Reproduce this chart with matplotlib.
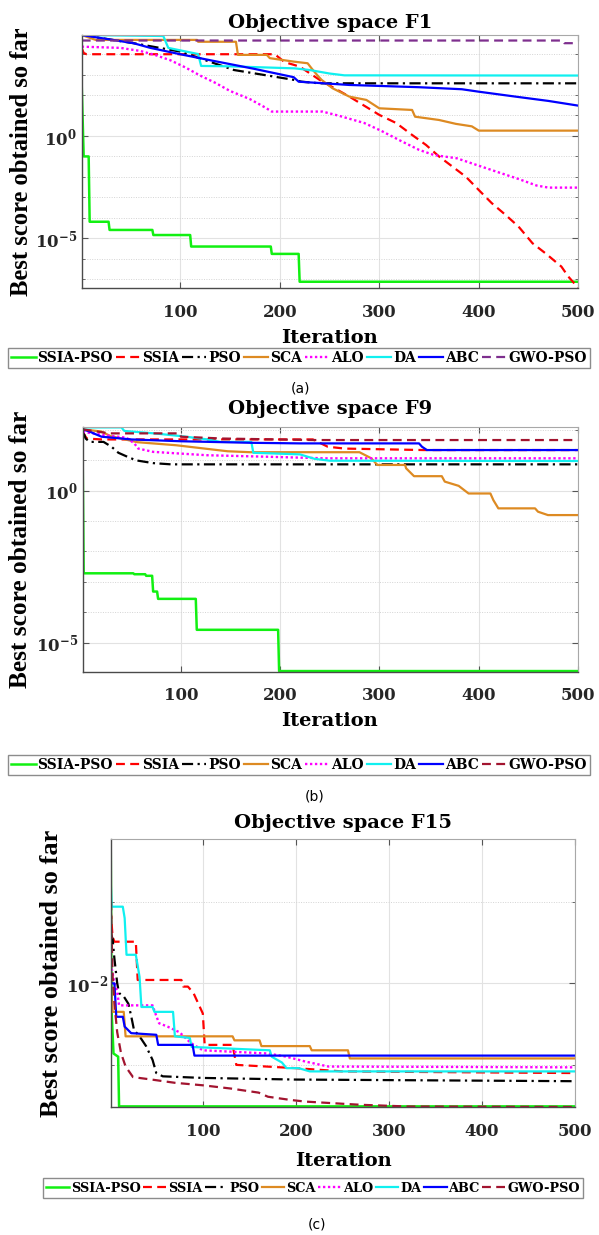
import matplotlib
matplotlib.use("Agg")
import matplotlib.pyplot as plt
from matplotlib.ticker import FixedLocator, FixedFormatter, NullFormatter, NullLocator

plt.rcParams.update({
    "font.family": "DejaVu Serif",
    "font.weight": "bold",
    "mathtext.fontset": "custom",
    "mathtext.rm": "DejaVu Serif:bold",
    "mathtext.bf": "DejaVu Serif:bold",
    "mathtext.it": "DejaVu Serif:bold:italic",
    "mathtext.default": "rm",
})

W, H = 599, 1235

methods = ["SSIA-PSO", "SSIA", "PSO", "SCA", "ALO", "DA", "ABC", "GWO-PSO"]
x_ticks = [100, 200, 300, 400, 500]
x_tick_labels = ["100", "200", "300", "400", "500"]

# ---------------- F1 convergence curves ----------------
f1_ssia_pso_it = [1, 3, 8, 9, 28, 29, 72, 73, 110, 111, 191, 192, 219, 220, 500]
f1_ssia_pso = [309, 0.1, 0.1, 6.46e-5, 6.46e-5, 2.57e-5, 2.57e-5, 1.45e-5, 1.45e-5,
               3.98e-6, 3.98e-6, 1.74e-6, 1.74e-6, 7.59e-8, 7.59e-8]
f1_ssia_it = [1, 3, 6, 195, 205, 220, 240, 270, 300, 317, 333, 347, 360, 387, 400,
              413, 427, 440, 454, 467, 483, 490, 500]
f1_ssia = [2.0e4, 1.12e4, 9.8e3, 9.8e3, 4.0e3, 2.45e3, 550, 83.2, 10.7, 4.27, 1.12,
           0.363, 0.1, 1.02e-2, 2.29e-3, 5.25e-4, 1.38e-4, 3.72e-5, 5.75e-6, 1.86e-6,
           4.17e-7, 1.35e-7, 3.8e-8]
f1_pso_it = [1, 53, 100, 154, 174, 214, 222, 240, 500]
f1_pso = [8.5e4, 3.39e4, 1.32e4, 1.66e3, 1.15e3, 550, 447, 372, 372]
f1_sca_it = [1, 15, 117, 118, 156, 158, 187, 190, 214, 228, 232, 238, 242, 253, 270,
             287, 300, 333, 336, 360, 377, 393, 400, 500]
f1_sca = [8.5e4, 4.9e4, 4.9e4, 3.98e4, 3.98e4, 9.1e3, 9.1e3, 6.3e3, 4.27e3, 3.55e3,
          2.0e3, 891, 550, 214, 83.2, 57.5, 22.4, 18.6, 8.71, 6.03, 3.89, 2.95, 1.82, 1.82]
f1_alo_it = [1, 40, 60, 75, 90, 105, 120, 135, 150, 170, 185, 192, 243, 260, 285, 302,
             322, 340, 355, 378, 398, 420, 440, 458, 470, 500]
f1_alo = [2.29e4, 2.0e4, 1.41e4, 8.9e3, 5.0e3, 2.24e3, 891, 398, 158, 63.1, 25.1, 15.5,
          15.5, 9.55, 4.27, 1.78, 0.562, 0.209, 0.117, 8.1e-2, 3.8e-2, 1.66e-2, 7.9e-3,
          3.8e-3, 3.0e-3, 3.0e-3]
f1_da_it = [1, 83, 88, 118, 121, 150, 215, 230, 250, 265, 500]
f1_da = [8.5e4, 7.6e4, 2.0e4, 1.0e4, 2.63e3, 2.51e3, 2.0e3, 1.66e3, 1.12e3, 912, 891]
f1_abc_it = [1, 53, 70, 100, 133, 174, 214, 219, 270, 340, 383, 400, 437, 470, 500]
f1_abc = [8.5e4, 3.39e4, 2.0e4, 9.8e3, 4.68e3, 1.91e3, 741, 447, 309, 240, 191, 145,
          83.2, 51.3, 30.2]
f1_gwo_pso_it = [1, 484, 486, 500]
f1_gwo_pso = [4.57e4, 4.57e4, 3.39e4, 3.39e4]

# ---------------- F9 convergence curves ----------------
f9_ssia_pso_it = [1, 2, 52, 53, 64, 65, 71, 72, 76, 77, 115, 116, 198, 199, 500]
f9_ssia_pso = [8.9, 1.91e-3, 1.91e-3, 1.78e-3, 1.78e-3, 1.58e-3, 1.58e-3, 4.79e-4,
               4.79e-4, 2.75e-4, 2.75e-4, 2.63e-5, 2.63e-5, 1.15e-6, 1.15e-6]
f9_ssia_it = [1, 5, 20, 233, 248, 265, 345, 500]
f9_ssia = [87.1, 52.5, 49.0, 49.0, 28.2, 24.5, 21.9, 21.9]
f9_pso_it = [1, 4, 8, 22, 30, 37, 46, 55, 72, 90, 500]
f9_pso = [95.5, 52.5, 40.7, 40.7, 28.2, 17.8, 13.2, 10.0, 8.13, 7.41, 7.41]
f9_sca_it = [1, 20, 29, 56, 95, 147, 170, 280, 292, 298, 326, 327, 335, 363, 366, 380,
             390, 412, 415, 420, 457, 460, 470, 500]
f9_sca = [105, 89.1, 63.1, 39.8, 31.6, 20.0, 18.6, 18.6, 11.7, 7.08, 7.08, 5.5, 3.02,
          3.02, 2.0, 1.45, 0.813, 0.813, 0.49, 0.263, 0.263, 0.204, 0.158, 0.158]
f9_alo_it = [1, 30, 45, 53, 57, 72, 126, 187, 245, 500]
f9_alo = [87.1, 63.1, 56.2, 36.3, 24.5, 19.1, 14.8, 13.2, 11.7, 11.7]
f9_da_it = [1, 40, 43, 73, 100, 127, 140, 171, 173, 220, 235, 250, 500]
f9_da = [122, 122, 93.3, 77.6, 63.1, 49.0, 40.7, 40.7, 17.8, 15.8, 11.2, 9.77, 9.55]
f9_abc_it = [1, 8, 12, 20, 50, 100, 170, 220, 340, 343, 348, 500]
f9_abc = [105, 89.1, 77.6, 60.3, 49.0, 42.7, 38.0, 36.3, 36.3, 28.2, 21.9, 21.9]
f9_gwo_pso_it = [1, 28, 99, 100, 142, 234, 500]
f9_gwo_pso = [105, 77.6, 77.6, 60.3, 52.5, 46.8, 46.8]

# ---------------- F15 convergence curves ----------------
f15_ssia_pso_it = [1, 2, 4, 9, 10, 500]
f15_ssia_pso = [0.583, 4.47e-3, 1.38e-3, 1.26e-3, 3.10e-4, 3.10e-4]
f15_ssia_it = [1, 3, 5, 28, 30, 77, 79, 84, 90, 100, 102, 132, 136, 200, 250, 500]
f15_ssia = [0.0794, 0.0372, 0.0324, 0.0324, 0.011, 0.011, 9.12e-3, 9.12e-3, 7.59e-3,
            4.27e-3, 1.76e-3, 1.76e-3, 1.0e-3, 9.12e-4, 8.32e-4, 7.94e-4]
f15_pso_it = [1, 3, 5, 8, 10, 15, 20, 23, 26, 32, 39, 46, 50, 57, 100, 200, 500]
f15_pso = [0.0407, 0.0355, 0.02, 0.01, 7.59e-3, 6.92e-3, 5.62e-3, 3.98e-3, 2.69e-3,
           2.24e-3, 1.70e-3, 1.15e-3, 7.94e-4, 7.24e-4, 6.92e-4, 6.61e-4, 6.31e-4]
f15_sca_it = [1, 3, 15, 17, 132, 134, 161, 163, 215, 217, 256, 258, 500]
f15_sca = [9.55e-3, 4.47e-3, 4.47e-3, 2.24e-3, 2.24e-3, 2.0e-3, 2.0e-3, 1.70e-3,
           1.70e-3, 1.51e-3, 1.51e-3, 1.20e-3, 1.20e-3]
f15_alo_it = [1, 3, 5, 8, 10, 46, 50, 53, 62, 75, 87, 100, 170, 190, 210, 235, 500]
f15_alo = [0.0174, 0.0135, 0.01, 7.94e-3, 5.37e-3, 5.37e-3, 3.98e-3, 3.24e-3, 2.95e-3,
           2.51e-3, 1.86e-3, 1.51e-3, 1.38e-3, 1.26e-3, 1.10e-3, 9.55e-4, 9.33e-4]
f15_da_it = [1, 2, 14, 16, 18, 28, 32, 34, 46, 48, 68, 70, 86, 88, 172, 174, 185, 190,
             203, 215, 500]
f15_da = [0.182, 0.0871, 0.0871, 0.0631, 0.0224, 0.0224, 0.012, 5.13e-3, 5.13e-3,
          4.47e-3, 4.47e-3, 2.24e-3, 2.14e-3, 1.66e-3, 1.51e-3, 1.26e-3, 1.07e-3,
          9.12e-4, 9.12e-4, 8.32e-4, 8.32e-4]
f15_abc_it = [1, 5, 7, 14, 16, 23, 50, 52, 89, 91, 500]
f15_abc = [0.01, 0.01, 3.89e-3, 3.89e-3, 2.95e-3, 2.45e-3, 2.34e-3, 1.76e-3, 1.76e-3,
           1.30e-3, 1.30e-3]
f15_gwo_pso_it = [1, 2, 3, 5, 8, 12, 17, 25, 45, 70, 100, 130, 160, 170, 194, 210, 240,
                  270, 320, 500]
f15_gwo_pso = [0.151, 0.0398, 0.0126, 5.62e-3, 2.51e-3, 1.41e-3, 9.55e-4, 7.08e-4,
               6.61e-4, 6.03e-4, 5.62e-4, 5.13e-4, 4.57e-4, 4.07e-4, 3.72e-4, 3.55e-4,
               3.39e-4, 3.24e-4, 3.09e-4, 3.05e-4]

# ---------------- styling ----------------
base_colors = ["#12F012", "#FF0000", "#000000", "#DD8A22", "#FF00FF", "#10F0F0",
               "#0000FF"]
dash = (0, (4, 2.4))
line_styles = ["-", dash, (0, (5, 2, 1, 2)), "-", (0, (1, 1.1)), "-", "-", dash]
line_widths = [1.8, 1.6, 1.6, 1.6, 1.7, 1.6, 1.6, 1.6]

fig = plt.figure(figsize=(W / 100, H / 100), dpi=100)


def add_axes_px(left, top, right, bottom):
    return fig.add_axes([left / W, 1 - bottom / H, (right - left) / W, (bottom - top) / H])


def draw_curves(ax, series, gwo_color):
    colors = base_colors + [gwo_color]
    handles = []
    for (its, vals), name, c, ls, lw in zip(series, methods, colors, line_styles, line_widths):
        ln, = ax.plot(its, vals, color=c, linestyle=ls, lw=lw, label=name)
        handles.append(ln)
    return handles


def style_axes(ax, ylim, major, major_labels, minor, ypad):
    ax.set_yscale("log")
    ax.set_xlim(1, 500)
    ax.set_ylim(*ylim)
    ax.xaxis.set_major_locator(FixedLocator(x_ticks))
    ax.xaxis.set_major_formatter(FixedFormatter(x_tick_labels))
    ax.xaxis.set_minor_locator(NullLocator())
    ax.yaxis.set_major_locator(FixedLocator(major))
    ax.yaxis.set_major_formatter(FixedFormatter(major_labels))
    ax.yaxis.set_minor_locator(FixedLocator(minor))
    ax.yaxis.set_minor_formatter(NullFormatter())
    ax.set_axisbelow(True)
    ax.grid(True, which="major", color="#e2e2e2", lw=0.8)
    ax.grid(True, which="minor", axis="y", color="#d4d4d4", lw=0.7, ls=(0, (1, 1.5)))
    ax.tick_params(which="both", direction="in", top=True, right=True, color="#555555",
                   labelcolor="#262626", labelsize=12)
    ax.tick_params(axis="x", which="major", pad=11, length=4)
    ax.tick_params(axis="y", which="major", pad=ypad, length=4)
    ax.tick_params(axis="y", which="minor", length=2.5)
    for s in ("left", "bottom"):
        ax.spines[s].set_color("#4a4a4a")
        ax.spines[s].set_linewidth(1.0)
    for s in ("top", "right"):
        ax.spines[s].set_color("#a8a8a8")
        ax.spines[s].set_linewidth(0.8)


def fig_text(x, y, s, **kw):
    return fig.text(x / W, 1 - y / H, s, **kw)


def add_legend(handles, cx, cy, size):
    fig.legend(handles, methods, loc="center", bbox_to_anchor=(cx / W, 1 - cy / H),
               ncol=8, fontsize=size, frameon=True, fancybox=False, edgecolor="#8c8c8c",
               framealpha=1.0, borderpad=0.25, handlelength=1.75, handletextpad=0.15,
               columnspacing=0.2, borderaxespad=0.0)


ylabel = "Best score obtained so far"

# ---- panel (a): F1
ax1 = add_axes_px(81.7, 35, 578.3, 288.3)
h1 = draw_curves(ax1, [(f1_ssia_pso_it, f1_ssia_pso), (f1_ssia_it, f1_ssia),
                       (f1_pso_it, f1_pso), (f1_sca_it, f1_sca), (f1_alo_it, f1_alo),
                       (f1_da_it, f1_da), (f1_abc_it, f1_abc),
                       (f1_gwo_pso_it, f1_gwo_pso)], "#7E2F8E")
style_axes(ax1, (10 ** -7.44, 10 ** 4.93), [1e-5, 1e0], [r"$10^{-5}$", r"$10^{0}$"],
           [10.0 ** k for k in range(-7, 5) if k not in (-5, 0)], 3.5)
fig_text(330, 27.5, "Objective space F1", ha="center", va="baseline", fontsize=14)
fig_text(330, 343, "Iteration", ha="center", va="baseline", fontsize=14)
fig_text(22, 161.6, ylabel, rotation=90, ha="center", va="center",
         family="Liberation Serif", fontsize=17.7)
add_legend(h1, 299, 358, 10)
fig_text(300, 388, "(a)", ha="center", va="center", family="DejaVu Sans",
         fontweight="normal", fontsize=10)

# ---- panel (b): F9
ax2 = add_axes_px(82.7, 427.3, 577.7, 671.7)
h2 = draw_curves(ax2, [(f9_ssia_pso_it, f9_ssia_pso), (f9_ssia_it, f9_ssia),
                       (f9_pso_it, f9_pso), (f9_sca_it, f9_sca), (f9_alo_it, f9_alo),
                       (f9_da_it, f9_da), (f9_abc_it, f9_abc),
                       (f9_gwo_pso_it, f9_gwo_pso)], "#A2142F")
style_axes(ax2, (10 ** -5.96, 10 ** 2.09), [1e-5, 1e0], [r"$10^{-5}$", r"$10^{0}$"],
           [10.0 ** k for k in range(-5, 3) if k not in (-5, 0)], 3.5)
fig_text(330, 413.5, "Objective space F9", ha="center", va="baseline", fontsize=14)
fig_text(330, 726.5, "Iteration", ha="center", va="baseline", fontsize=14)
fig_text(21, 549.5, ylabel, rotation=90, ha="center", va="center",
         family="Liberation Serif", fontsize=18.3)
add_legend(h2, 299, 765, 10)
fig_text(315, 796, "(b)", ha="center", va="center", family="DejaVu Sans",
         fontweight="normal", fontsize=10)

# ---- panel (c): F15
ax3 = add_axes_px(110.7, 839, 575, 1107.3)
h3 = draw_curves(ax3, [(f15_ssia_pso_it, f15_ssia_pso), (f15_ssia_it, f15_ssia),
                       (f15_pso_it, f15_pso), (f15_sca_it, f15_sca), (f15_alo_it, f15_alo),
                       (f15_da_it, f15_da), (f15_abc_it, f15_abc),
                       (f15_gwo_pso_it, f15_gwo_pso)], "#A2142F")
style_axes(ax3, (10 ** -3.52, 10 ** -0.23), [1e-2], [r"$10^{-2}$"], [1e-3, 1e-1], 2.0)
fig_text(343, 828.5, "Objective space F15", ha="center", va="baseline", fontsize=14)
fig_text(343, 1166.5, "Iteration", ha="center", va="baseline", fontsize=14)
fig_text(51, 973, ylabel, rotation=90, ha="center", va="center",
         family="Liberation Serif", fontsize=18.9)
add_legend(h3, 313, 1188, 9.3)
fig_text(317, 1224, "(c)", ha="center", va="center", family="DejaVu Sans",
         fontweight="normal", fontsize=10)

fig.savefig("out.png", dpi=100, facecolor="white")
